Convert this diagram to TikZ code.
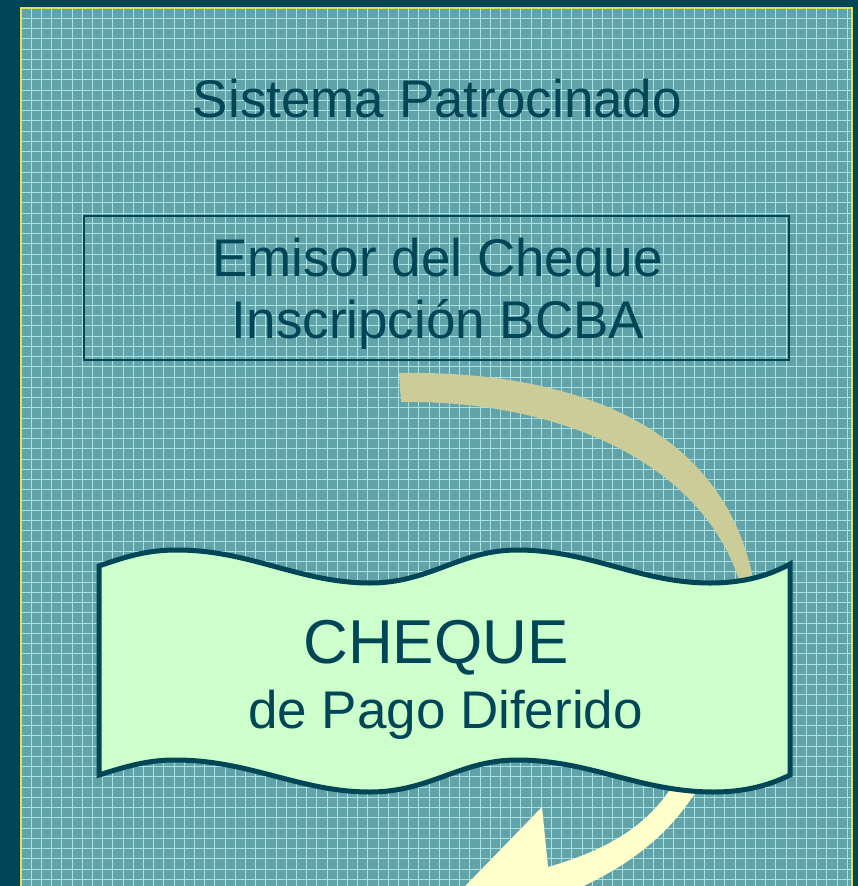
\documentclass[tikz,border=0pt]{standalone}
\usepackage{fontspec}
\setmainfont{Liberation Sans}
\usepackage{tikz}
\usepackage{xcolor}
\definecolor{deepteal}{HTML}{004656}
\definecolor{panelteal}{HTML}{62A3AA}
\definecolor{gridcyan}{HTML}{A8E2E2}
\definecolor{borderyellow}{HTML}{E0E050}
\definecolor{chequegreen}{HTML}{CCFFCC}
\definecolor{arctan}{HTML}{CCCC99}
\definecolor{arrowcream}{HTML}{FFFFCC}
\tikzset{
    grid-line/.style = {draw=gridcyan, line width=0.7pt},
    panel-title/.style = {text=deepteal, font=\fontsize{53}{62}\selectfont, inner sep=0pt, anchor=base},
    info-box/.style = {draw=deepteal, line width=1.2pt, rectangle, minimum width=705pt, minimum height=144pt, inner sep=0pt},
    box-text/.style = {text=deepteal, font=\fontsize{53}{62}\selectfont, inner sep=0pt, anchor=base},
    wave-shape/.style = {draw=deepteal, fill=chequegreen, line width=5pt, line join=miter},
    cheque-big/.style = {text=deepteal, font=\fontsize{62}{70}\selectfont, inner sep=0pt, anchor=base},
    cheque-small/.style = {text=deepteal, font=\fontsize{53}{62}\selectfont, inner sep=0pt, anchor=base},
}

\begin{document}
\begin{tikzpicture}[x=1pt,y=-1pt]
\useasboundingbox (0,0) rectangle (858,886);
\clip (0,0) rectangle (858,886);
\fill[deepteal] (0,0) rectangle (858,886);

% panel with grid
\fill[panelteal] (21,8) rectangle (852,900);
\foreach \i in {0,...,81}
    \draw[grid-line] (21+\i*10.2,8) -- (21+\i*10.2,900);
\foreach \j in {0,...,87}
    \draw[grid-line] (21,8+\j*10.25) -- (852,8+\j*10.25);
\draw[borderyellow, line width=2pt] (21,900) -- (21,8) -- (852,8) -- (852,900);

% title and issuer box
\node[panel-title] (title) at (437.5,117) {Sistema Patrocinado};
\node[info-box] (emisor) at (436.5,288) {};
\node[box-text] (emisor-top) at (437.5,276) {Emisor del Cheque};
\node[box-text] (emisor-bottom) at (438,338) {Inscripción BCBA};

% tan arc from the box down to the cheque
\coordinate (arc-start) at (399,373);
\coordinate (arc-end) at (755,590);
\fill[arctan] (arc-start) .. controls (580,370) and (730,430) .. (arc-end)
    -- (742,590) .. controls (710,470) and (570,400) .. (401,402) -- cycle;

% cream arrow leaving the cheque
\coordinate (arrow-root) at (673,785);
\coordinate (arrow-barb) at (542,807);
\fill[arrowcream] (arrow-root) .. controls (645,830) and (600,852) .. (548,867)
    -- (arrow-barb) -- (440,912) -- (560,905)
    -- (575,890) .. controls (630,865) and (670,835) .. (700,785) -- cycle;

% cheque wave
\draw[wave-shape] (99,566) .. controls (130,555) and (150,550) .. (177,550)
    .. controls (250,550) and (300,583) .. (370,583)
    .. controls (430,583) and (460,550) .. (517,550)
    .. controls (590,550) and (640,583) .. (710,583)
    .. controls (745,583) and (770,575) .. (790,564)
    -- (790,775)
    .. controls (770,785) and (745,792) .. (714,792)
    .. controls (640,792) and (590,760) .. (517,760)
    .. controls (460,760) and (430,792) .. (370,792)
    .. controls (300,792) and (250,760) .. (175,760)
    .. controls (150,760) and (130,765) .. (99,775) -- cycle;
\node[cheque-big] (cheque) at (436,663) {CHEQUE};
\node[cheque-small] (cheque-sub) at (445.5,728) {de Pago Diferido};
\end{tikzpicture}
\end{document}
